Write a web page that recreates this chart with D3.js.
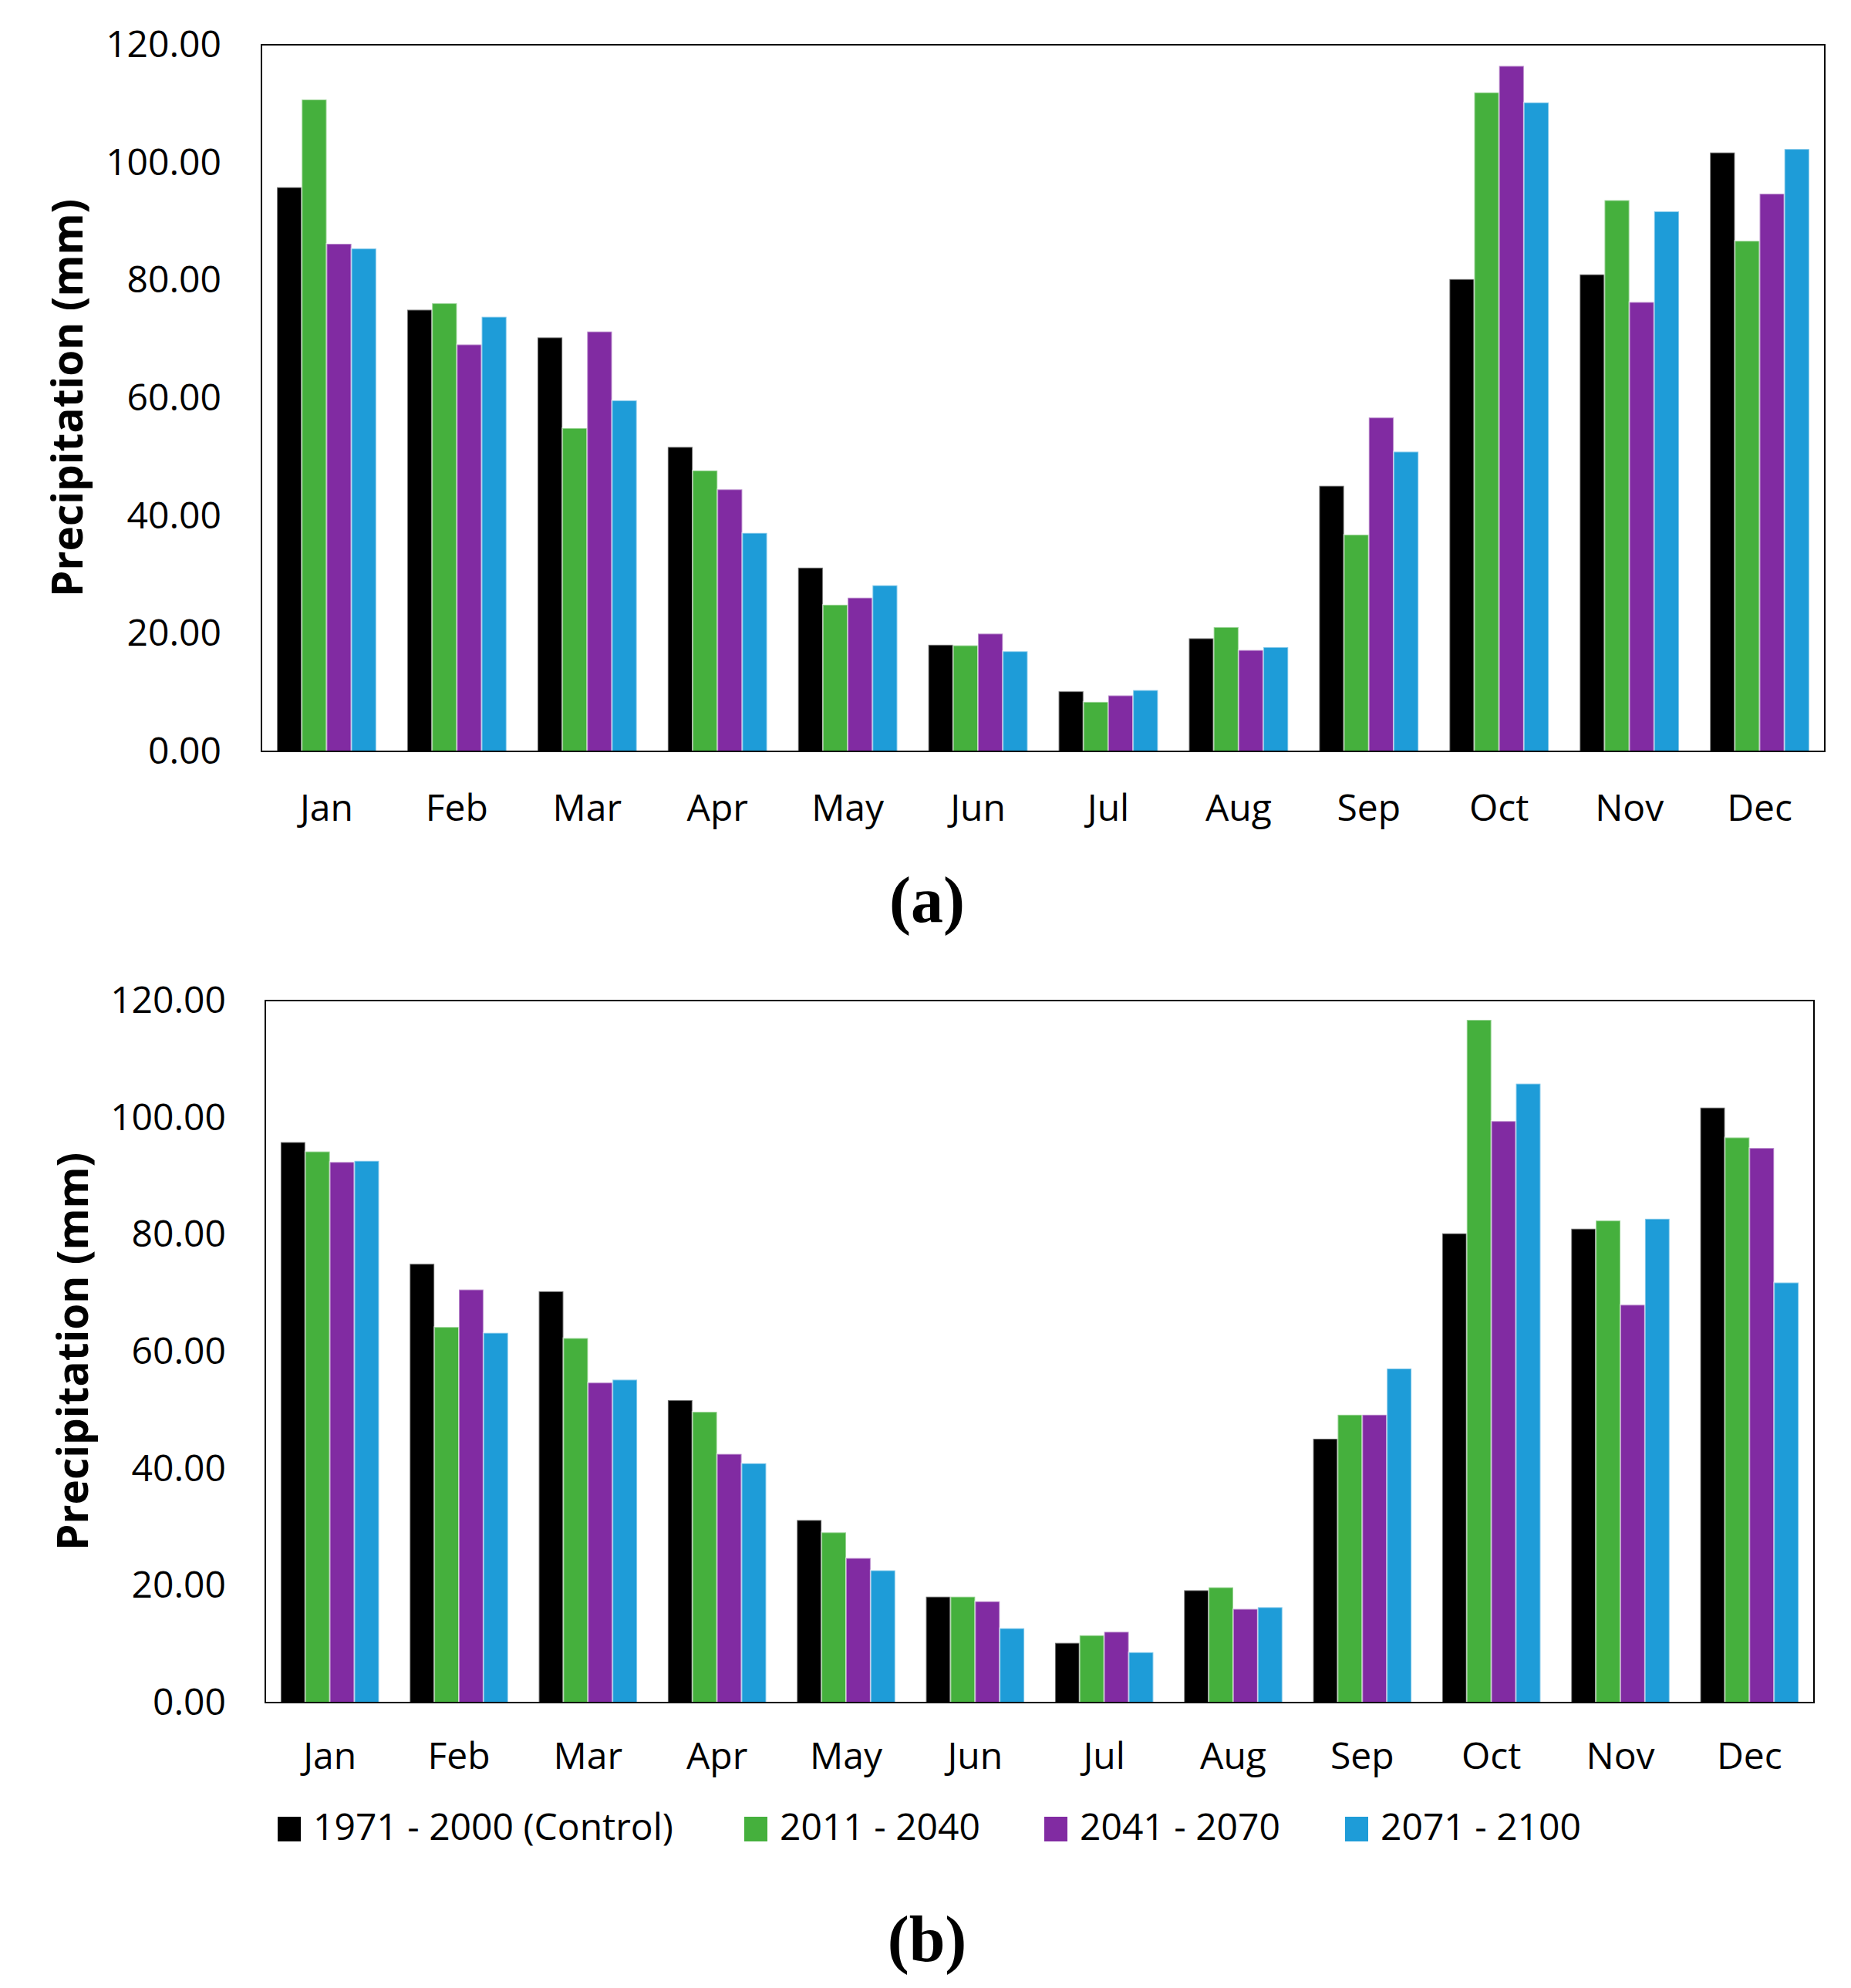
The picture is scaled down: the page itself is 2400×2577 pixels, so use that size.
<!DOCTYPE html>
<html>
<head>
<meta charset="utf-8">
<script src="https://cdn.jsdelivr.net/npm/d3@7"></script>
<style>
  body { margin: 0; background: #fff; }
</style>
</head>
<body>
<div id="chart"></div>
<script>
// categories / series
const months = ["Jan", "Feb", "Mar", "Apr", "May", "Jun", "Jul", "Aug", "Sep", "Oct", "Nov", "Dec"];
const periods = ["1971 - 2000 (Control)", "2011 - 2040", "2041 - 2070", "2071 - 2100"];
const yTicks = [0, 20, 40, 60, 80, 100, 120];

// control period, same in both panels
const control = [95.8, 75.0, 70.3, 51.7, 31.2, 18.1, 10.2, 19.2, 45.1, 80.2, 81.0, 101.7];

// panel (a)
const a2011 = [110.7, 76.1, 54.9, 47.7, 24.9, 18.0, 8.4, 21.1, 36.8, 111.9, 93.6, 86.7];
const a2041 = [86.2, 69.1, 71.3, 44.5, 26.1, 20.0, 9.5, 17.2, 56.7, 116.4, 76.3, 94.7];
const a2071 = [85.4, 73.8, 59.6, 37.1, 28.2, 17.0, 10.4, 17.7, 50.9, 110.2, 91.7, 102.3];

// panel (b)
const b2011 = [94.2, 64.2, 62.3, 49.7, 29.1, 18.1, 11.5, 19.7, 49.2, 116.7, 82.4, 96.6];
const b2041 = [92.4, 70.6, 54.7, 42.5, 24.7, 17.3, 12.1, 16.0, 49.2, 99.4, 68.0, 94.8];
const b2071 = [92.6, 63.2, 55.2, 40.9, 22.6, 12.7, 8.6, 16.3, 57.1, 105.8, 82.7, 71.8];

const colors = ["#000000", "#45b03d", "#812ba2", "#1e9cd8"];
const sansFont = "'Open Sans', 'Noto Sans', sans-serif";

let svg = d3.select("#chart").append("svg")
    .attr("width", 2400)
    .attr("height", 2577)
    .style("background", "#fff");

function drawPanel(p) {
    let w = p.right - p.left,
        h = p.bottom - p.top;

    let g = svg.append("g")
        .attr("transform", "translate(" + p.left + "," + p.top + ")");

    // x: months, then the four periods inside each month
    let x0 = d3.scaleBand()
        .domain(months)
        .range([0, w])
        .paddingInner(0.238)
        .paddingOuter(0.119);
    let x1 = d3.scaleBand()
        .domain(periods)
        .range([0, x0.bandwidth()]);
    let y = d3.scaleLinear()
        .domain([0, 120])
        .range([h, 0]);

    let rows = months.map(function(m, i) {
        return { month: m, values: p.series.map(function(s, j) { return { period: periods[j], value: s[i] }; }) };
    });

    // bars
    g.selectAll(".month")
        .data(rows)
        .enter()
        .append("g")
        .attr("transform", function(d) { return "translate(" + x0(d.month) + ",0)"; })
        .selectAll("rect")
        .data(function(d) { return d.values; })
        .enter()
        .append("rect")
        .attr("x", function(d) { return x1(d.period); })
        .attr("width", x1.bandwidth())
        .attr("y", function(d) { return y(d.value); })
        .attr("height", function(d) { return h - y(d.value); })
        .attr("fill", function(d, j) { return colors[j]; })
        .attr("stroke", "#fff")
        .attr("stroke-opacity", 0.45)
        .attr("stroke-width", 2);

    // plot frame
    g.append("rect")
        .attr("width", w)
        .attr("height", h)
        .attr("fill", "none")
        .attr("stroke", "#000")
        .attr("stroke-width", 2);

    // y axis
    let yAxis = g.append("g")
        .call(d3.axisLeft(y).tickValues(yTicks).tickFormat(d3.format(".2f")).tickSize(0).tickPadding(p.yPad));
    yAxis.select(".domain").remove();
    yAxis.selectAll("text")
        .attr("font-family", sansFont)
        .attr("font-size", 48)
        .attr("fill", "#000");

    // x axis
    let xAxis = g.append("g")
        .attr("transform", "translate(0," + h + ")")
        .call(d3.axisBottom(x0).tickSize(0).tickPadding(p.xPad));
    xAxis.select(".domain").remove();
    xAxis.selectAll("text")
        .attr("font-family", sansFont)
        .attr("font-size", 48)
        .attr("fill", "#000");

    // y axis title
    svg.append("text")
        .attr("transform", "translate(" + p.titleX + "," + (p.top + h / 2) + ") rotate(-90)")
        .attr("text-anchor", "middle")
        .attr("dy", "0.36em")
        .attr("font-family", sansFont)
        .attr("font-weight", "bold")
        .attr("font-size", 55)
        .text("Precipitation (mm)");

    // panel letter
    svg.append("text")
        .attr("x", 1202)
        .attr("y", p.letterY)
        .attr("text-anchor", "middle")
        .attr("font-family", "'Liberation Serif', 'DejaVu Serif', serif")
        .attr("font-weight", "bold")
        .attr("font-size", 84)
        .text(p.letter);
}

drawPanel({ left: 339, right: 2366, top: 58, bottom: 974, yPad: 52, xPad: 56, titleX: 87,
    series: [control, a2011, a2041, a2071], letter: "(a)", letterY: 1195 });
drawPanel({ left: 344, right: 2352, top: 1297, bottom: 2207, yPad: 51, xPad: 52, titleX: 94,
    series: [control, b2011, b2041, b2071], letter: "(b)", letterY: 2542 });

// legend under panel (b)
let legendX = [360, 965, 1354, 1744];
let legend = svg.append("g");
let items = legend.selectAll("g")
    .data(periods)
    .enter()
    .append("g")
    .attr("transform", function(d, i) { return "translate(" + legendX[i] + ",2355)"; });
items.append("rect")
    .attr("width", 30)
    .attr("height", 32)
    .attr("fill", function(d, i) { return colors[i]; });
items.append("text")
    .attr("x", 46)
    .attr("y", 30)
    .attr("font-family", sansFont)
    .attr("font-size", 48)
    .text(function(d) { return d; });
</script>
</body>
</html>
